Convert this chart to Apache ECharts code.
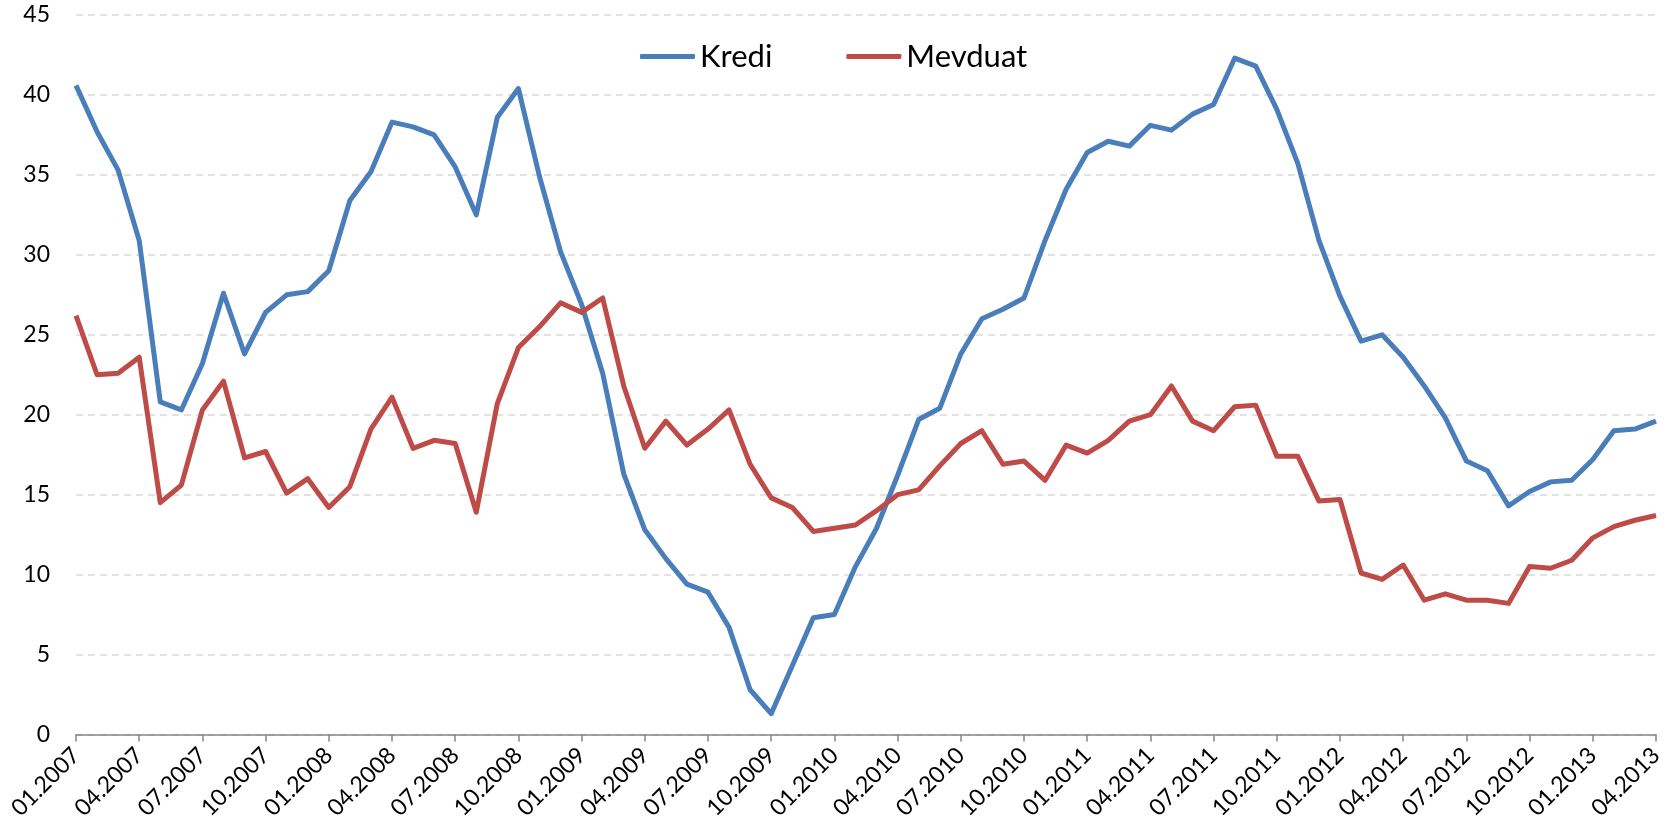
<!DOCTYPE html>
<html>
<head>
<meta charset="utf-8">
<script src="https://cdn.jsdelivr.net/npm/echarts@6/dist/echarts.min.js"></script>
<style>
  html, body { margin: 0; padding: 0; background: #fff; }
  #chart { width: 1679px; height: 837px; }
</style>
</head>
<body>
<div id="chart"></div>
<script>
// monthly labels 01.2007 - 04.2013
const months = [
  '01.2007','02.2007','03.2007','04.2007','05.2007','06.2007','07.2007','08.2007','09.2007','10.2007','11.2007','12.2007',
  '01.2008','02.2008','03.2008','04.2008','05.2008','06.2008','07.2008','08.2008','09.2008','10.2008','11.2008','12.2008',
  '01.2009','02.2009','03.2009','04.2009','05.2009','06.2009','07.2009','08.2009','09.2009','10.2009','11.2009','12.2009',
  '01.2010','02.2010','03.2010','04.2010','05.2010','06.2010','07.2010','08.2010','09.2010','10.2010','11.2010','12.2010',
  '01.2011','02.2011','03.2011','04.2011','05.2011','06.2011','07.2011','08.2011','09.2011','10.2011','11.2011','12.2011',
  '01.2012','02.2012','03.2012','04.2012','05.2012','06.2012','07.2012','08.2012','09.2012','10.2012','11.2012','12.2012',
  '01.2013','02.2013','03.2013','04.2013'
];

const kredi = [
  40.6, 37.7, 35.3, 30.9, 20.8, 20.3, 23.2, 27.6, 23.8, 26.4, 27.5, 27.7,
  29.0, 33.4, 35.2, 38.3, 38.0, 37.5, 35.5, 32.5, 38.6, 40.4, 34.9, 30.2,
  26.9, 22.6, 16.3, 12.8, 11.0, 9.4, 8.9, 6.7, 2.8, 1.3, 4.3, 7.3,
  7.5, 10.5, 12.9, 16.2, 19.7, 20.4, 23.8, 26.0, 26.6, 27.3, 30.9, 34.1,
  36.4, 37.1, 36.8, 38.1, 37.8, 38.8, 39.4, 42.3, 41.8, 39.1, 35.7, 30.9,
  27.4, 24.6, 25.0, 23.6, 21.8, 19.8, 17.1, 16.5, 14.3, 15.2, 15.8, 15.9,
  17.2, 19.0, 19.1, 19.6
];

const mevduat = [
  26.2, 22.5, 22.6, 23.6, 14.5, 15.6, 20.3, 22.1, 17.3, 17.7, 15.1, 16.0,
  14.2, 15.5, 19.1, 21.1, 17.9, 18.4, 18.2, 13.9, 20.7, 24.2, 25.5, 27.0,
  26.4, 27.3, 21.8, 17.9, 19.6, 18.1, 19.1, 20.3, 16.9, 14.8, 14.2, 12.7,
  12.9, 13.1, 14.0, 15.0, 15.3, 16.8, 18.2, 19.0, 16.9, 17.1, 15.9, 18.1,
  17.6, 18.4, 19.6, 20.0, 21.8, 19.6, 19.0, 20.5, 20.6, 17.4, 17.4, 14.6,
  14.7, 10.1, 9.7, 10.6, 8.4, 8.8, 8.4, 8.4, 8.2, 10.5, 10.4, 10.9,
  12.3, 13.0, 13.4, 13.7
];

const seriesNames = ['Kredi', 'Mevduat'];
const colors = ['#4a7ebb', '#be4b48'];
const yTicks = { min: 0, max: 45, step: 5 };

const chart = echarts.init(document.getElementById('chart'));
const font = 'Lato, "Open Sans", sans-serif';

chart.setOption({
  animation: false,
  color: colors,
  textStyle: { fontFamily: font },
  grid: { left: 76, right: 23, top: 15, bottom: 102.5, containLabel: false },
  legend: {
    left: 635,
    top: 36,
    icon: 'roundRect',
    itemWidth: 55,
    itemHeight: 5,
    itemGap: 74,
    textStyle: { fontSize: 31, color: '#000', fontFamily: font },
    data: seriesNames
  },
  xAxis: {
    type: 'category',
    data: months,
    boundaryGap: false,
    axisLine: { lineStyle: { color: '#868686', width: 1.5 } },
    axisTick: { interval: 2, length: 7, lineStyle: { color: '#868686', width: 1.5 } },
    axisLabel: {
      interval: 2,
      rotate: 45,
      margin: 17,
      fontSize: 23,
      color: '#000',
      fontFamily: font
    },
    splitLine: { show: false }
  },
  yAxis: {
    type: 'value',
    min: yTicks.min,
    max: yTicks.max,
    interval: yTicks.step,
    axisLine: { show: false },
    axisTick: { show: false },
    axisLabel: { fontSize: 23, color: '#000', margin: 26, fontFamily: font },
    splitLine: { lineStyle: { color: '#d9d9d9', width: 1.5, type: [7, 5] } }
  },
  series: [
    {
      name: seriesNames[0],
      type: 'line',
      data: kredi,
      symbol: 'none',
      lineStyle: { width: 5, color: colors[0], join: 'round' }
    },
    {
      name: seriesNames[1],
      type: 'line',
      data: mevduat,
      symbol: 'none',
      lineStyle: { width: 5, color: colors[1], join: 'round' }
    }
  ]
});
</script>
</body>
</html>
